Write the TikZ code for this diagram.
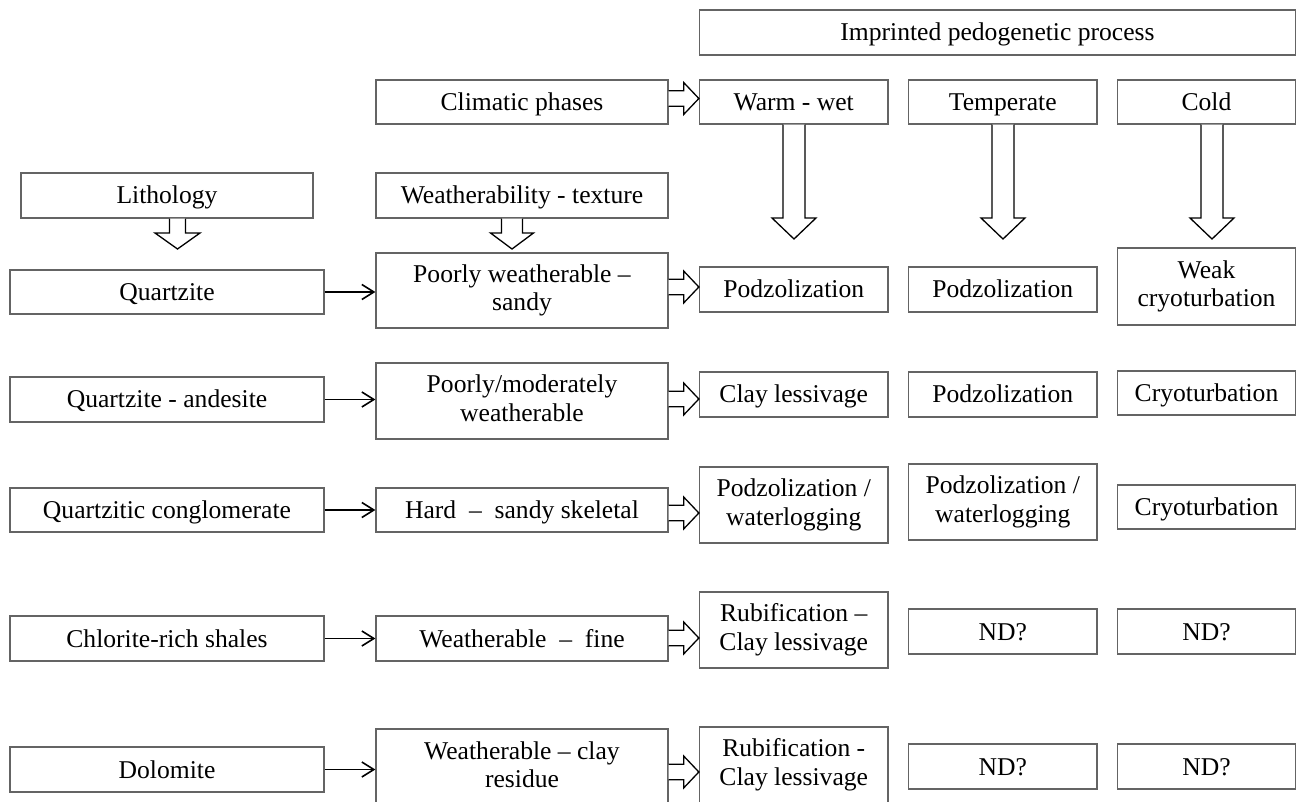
\documentclass[tikz,border=0pt]{standalone}
\usepackage{fontspec}
\setmainfont{Liberation Serif}
\usetikzlibrary{arrows.meta,calc}
\definecolor{boxgray}{RGB}{100,100,100}
\newcommand{\lstrut}{\rule[-3pt]{0pt}{14.5pt}}
\tikzset{
  box/.style={draw=boxgray, line width=0.65pt, fill=white, inner sep=0pt, align=center,
    font=\fontsize{12.8}{14.2}\selectfont,
    execute at begin node=\lstrut, execute at end node=\lstrut},
  thinarr/.style={line width=0.8pt, -{Straight Barb[length=6pt,width=7.5pt]}},
  blk/.style={draw=black, fill=white, line width=0.65pt, line join=miter}
}
\newcommand{\bx}[6]{\node[box, minimum width={(#4-#2)*0.5pt}, minimum height={(#5-#3)*0.5pt}] (#1) at ({(#2+#4)/2},{(#3+#5)/2}) {#6};}
% right block arrow: from node #1 to node #2 at y=#3 (px)
\newcommand{\blockR}[3]{\path[blk] let \p1=(#1.east), \p2=(#2.west), \p3=(0,#3) in
  (\x1,\y3+3.85pt) -- (\x1+7.5pt,\y3+3.85pt) -- (\x1+7.5pt,\y3+8pt) -- (\x2,\y3)
  -- (\x1+7.5pt,\y3-8pt) -- (\x1+7.5pt,\y3-3.85pt) -- (\x1,\y3-3.85pt);}
% down block arrow: from node #1, centre x=#2 (px), tip y=#3 (px), shaft half #4, head half #5, head length #6
\newcommand{\blockD}[6]{\path[blk] let \p1=(#1.south), \p3=(#2,#3) in
  (\x3-#4,\y1) -- (\x3-#4,\y3+#6) -- (\x3-#5,\y3+#6) -- (\x3,\y3)
  -- (\x3+#5,\y3+#6) -- (\x3+#4,\y3+#6) -- (\x3+#4,\y1);}
\begin{document}
\begin{tikzpicture}[x=0.5pt,y=-0.5pt]
\useasboundingbox[fill=white] (0,0) rectangle (1297,802);
% header
\bx{imp}{699.5}{10}{1295.5}{55}{Imprinted pedogenetic process}
\bx{clim}{376}{80}{668}{124}{Climatic phases}
\bx{warm}{699.5}{80}{888}{124}{Warm - wet}
\bx{temp}{908.5}{80}{1097}{124}{Temperate}
\bx{cold}{1117.5}{80}{1295.5}{124}{Cold}
\bx{lith}{21}{173}{313}{218}{Lithology}
\bx{weat}{376}{173}{668}{218}{Weatherability - texture}
% row 1
\bx{qa}{10}{270}{324}{314}{Quartzite}
\bx{wa}{376}{253}{668}{328}{Poorly weatherable –\\sandy}
\bx{pa1}{699.5}{267}{888}{312}{Podzolization}
\bx{pa2}{908.5}{267}{1097}{312}{Podzolization}
\bx{pa3}{1117.5}{248}{1295.5}{325}{Weak\\cryoturbation}
% row 2
\bx{qb}{10}{377}{324}{422}{Quartzite - andesite}
\bx{wb}{376}{363}{668}{439}{Poorly/moderately\\weatherable}
\bx{pb1}{699.5}{372}{888}{417}{Clay lessivage}
\bx{pb2}{908.5}{372}{1097}{417}{Podzolization}
\bx{pb3}{1117.5}{371}{1295.5}{415}{Cryoturbation}
% row 3
\bx{qc}{10}{488}{324}{532}{Quartzitic conglomerate}
\bx{wc}{376}{488}{668}{532}{Hard\ \ –\ \ sandy skeletal}
\bx{pc1}{699.5}{467}{888}{543}{Podzolization /\\waterlogging}
\bx{pc2}{908.5}{464}{1097}{540}{Podzolization /\\waterlogging}
\bx{pc3}{1117.5}{485}{1295.5}{529}{Cryoturbation}
% row 4
\bx{qd}{10}{616}{324}{661}{Chlorite-rich shales}
\bx{wd}{376}{616}{668}{661}{Weatherable\ \ –\ \ fine}
\bx{pd1}{699.5}{592}{888}{668}{Rubification –\\Clay lessivage}
\bx{pd2}{908.5}{609}{1097}{654}{ND?}
\bx{pd3}{1117.5}{609}{1295.5}{654}{ND?}
% row 5
\bx{qe}{10}{747}{324}{792}{Dolomite}
\bx{we}{376}{729}{668}{806}{Weatherable – clay\\residue}
\bx{pe1}{699.5}{727}{888}{803}{Rubification -\\Clay lessivage}
\bx{pe2}{908.5}{744}{1097}{789}{ND?}
\bx{pe3}{1117.5}{744}{1295.5}{789}{ND?}
% thin arrows
\draw[thinarr] (qa.east) -- (wa.west |- qa.east);
\draw[thinarr] (qb.east) -- (wb.west |- qb.east);
\draw[thinarr] (qc.east) -- (wc.west |- qc.east);
\draw[thinarr] (qd.east) -- (wd.west |- qd.east);
\draw[thinarr] (qe.east) -- (we.west |- qe.east);
% right block arrows
\blockR{clim}{warm}{98.5}
\blockR{wa}{pa1}{287}
\blockR{wb}{pb1}{399}
\blockR{wc}{pc1}{513}
\blockR{wd}{pd1}{638}
\blockR{we}{pe1}{772}
% down block arrows
\blockD{lith}{177.5}{249}{4pt}{11.25pt}{8pt}
\blockD{weat}{512}{249}{5.25pt}{10.75pt}{8pt}
\blockD{warm}{794}{239}{5.5pt}{11pt}{10.5pt}
\blockD{temp}{1003}{239}{5.5pt}{11pt}{10.5pt}
\blockD{cold}{1212}{239}{5.5pt}{11pt}{10.5pt}
\end{tikzpicture}
\end{document}
